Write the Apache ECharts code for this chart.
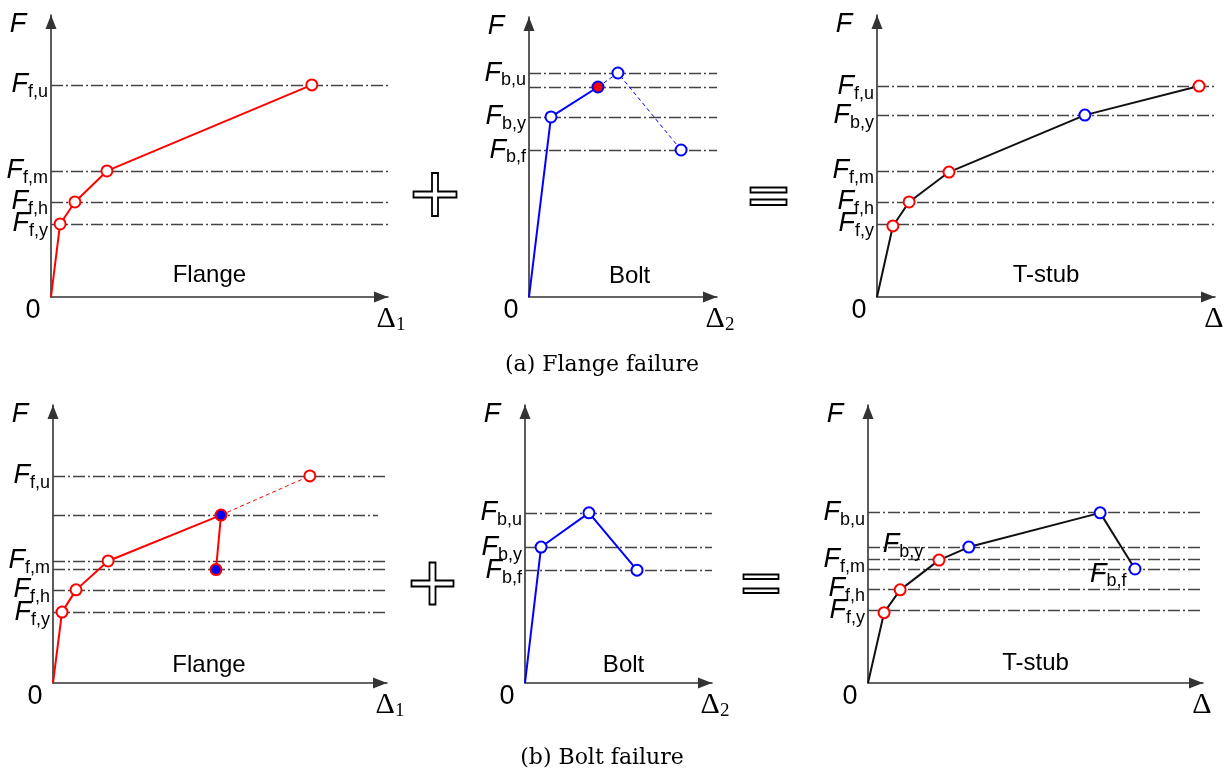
<!DOCTYPE html>
<html>
<head>
<meta charset="utf-8">
<script src="https://cdn.jsdelivr.net/npm/echarts@6/dist/echarts.min.js"></script>
<style>
html, body { margin: 0; padding: 0; background: #fff; }
#chart { width: 1228px; height: 770px; }
</style>
</head>
<body>
<div id="chart"></div>
<script>
// values, every axis normalised to 0..100

// (a) flange failure
var aFlangeX = [0, 2.7, 7.1, 16.6, 77.4];
var aFlangeY = [0, 25.9, 33.7, 44.7, 75.2];
var aFlangeLevels = [75.2, 44.7, 33.7, 25.9];
var aFlangeTicks = ['f,u', 'f,m', 'f,h', 'f,y'];

var aBoltX = [0, 11.7, 36.7, 47.3, 80.9];
var aBoltY = [0, 64.3, 75.0, 80.0, 52.5];
var aBoltLevels = [80.0, 75.0, 64.3, 52.5];
var aBoltTicks = ['b,u', '', 'b,y', 'b,f'];

var aTstubX = [0, 4.7, 9.5, 21.3, 61.5, 95.3];
var aTstubY = [0, 25.2, 33.7, 44.3, 64.5, 74.8];
var aTstubFrom = ['', 'f', 'f', 'f', 'b', 'f'];
var aTstubLevels = [74.8, 64.5, 44.7, 33.7, 25.9];
var aTstubTicks = ['f,u', 'b,y', 'f,m', 'f,h', 'f,y'];

// (b) bolt failure
var bFlangeX = [0, 2.7, 6.9, 16.5, 50.3, 48.8];
var bFlangeY = [0, 25.5, 33.5, 43.9, 60.4, 40.8];
var bFlangeRestX = [50.3, 76.9];
var bFlangeRestY = [60.4, 74.5];
var bFlangeLevels = [74.5, 60.4, 43.9, 40.8, 33.5, 25.5];
var bFlangeLevelEnds = [100, 97.3, 100, 100, 100, 100];
var bFlangeTicks = ['f,u', '', 'f,m', '', 'f,h', 'f,y'];

var bBoltX = [0, 8.6, 34.2, 59.9];
var bBoltY = [0, 48.9, 61.2, 40.6];
var bBoltLevels = [61.2, 48.9, 40.6];
var bBoltTicks = ['b,u', 'b,y', 'b,f'];

var bTstubX = [0, 4.8, 9.6, 21.2, 30.1, 69.3, 79.7];
var bTstubY = [0, 25.3, 33.5, 44.2, 48.9, 61.2, 41.0];
var bTstubFrom = ['', 'f', 'f', 'f', 'b', 'b', 'b'];
var bTstubNotes = ['', '', '', '', 'b,y', '', 'b,f'];
var bTstubLevels = [61.3, 48.9, 44.5, 40.9, 33.9, 26.0];
var bTstubTicks = ['b,u', '', 'f,m', '', 'f,h', 'f,y'];

var titles = ['Flange', 'Bolt', 'T-stub', 'Flange', 'Bolt', 'T-stub'];
var deltaSubs = ['1', '2', '', '1', '2', ''];
var captions = ['(a) Flange failure', '(b) Bolt failure'];

// layout
var boxes = [
    {left: 51, top: 15, width: 337, height: 282, tx: 0.47, ty: -22},
    {left: 529, top: 17, width: 188, height: 280, tx: 0.535, ty: -21},
    {left: 877, top: 15, width: 338, height: 282, tx: 0.5, ty: -22},
    {left: 53, top: 405, width: 334, height: 278, tx: 0.467, ty: -18},
    {left: 525, top: 405, width: 187, height: 278, tx: 0.527, ty: -18},
    {left: 868, top: 405, width: 335, height: 278, tx: 0.5, ty: -20}
];

var RED = '#ff0000', BLUE = '#0000ff', BLACK = '#111111';
var SANS = '"Liberation Sans", Arial, sans-serif';
var SERIF = '"Liberation Serif", "DejaVu Serif", serif';

var rich = {
    F: {fontSize: 27, fontStyle: 'italic', fontFamily: SANS, color: '#000'},
    s: {fontSize: 18, fontFamily: SANS, color: '#000', padding: [15, 0, 0, 0]}
};
function fLabel(sub) { return '{F|F}{s|' + sub + '}'; }

function ring(color) { return {color: '#fff', borderColor: color, borderWidth: 2}; }

function pts(xs, ys, styleFn) {
    return xs.map(function (x, i) {
        var item = {value: [x, ys[i]]};
        var st = styleFn ? styleFn(i) : null;
        if (st === null) { item.symbol = 'none'; } else { item.itemStyle = st; }
        return item;
    });
}

function levelMarks(levels, ticks, ends) {
    return {
        silent: true,
        symbol: 'none',
        animation: false,
        z: 1,
        label: {show: false},
        lineStyle: {color: '#444', width: 1.3, type: [12, 3, 2, 3]},
        data: levels.map(function (lv, i) {
            var first = {coord: [0, lv]};
            if (ticks[i]) {
                first.label = {show: true, position: 'start', distance: 3, formatter: fLabel(ticks[i]), rich: rich};
            }
            return [first, {coord: [ends ? ends[i] : 100, lv]}];
        })
    };
}

var grids = [], xAxes = [], yAxes = [], graphics = [];
var axisLine = {
    show: true, onZero: false,
    symbol: ['none', 'triangle'], symbolSize: [11, 14], symbolOffset: [0, -7],
    lineStyle: {color: '#333', width: 1.6}
};
boxes.forEach(function (b, i) {
    grids.push({left: b.left, top: b.top, width: b.width, height: b.height, containLabel: false, outerBoundsMode: 'none'});
    xAxes.push({gridIndex: i, type: 'value', min: 0, max: 100, axisLine: axisLine,
        axisTick: {show: false}, axisLabel: {show: false}, splitLine: {show: false}});
    yAxes.push({gridIndex: i, type: 'value', min: 0, max: 100, axisLine: axisLine,
        axisTick: {show: false}, axisLabel: {show: false}, splitLine: {show: false}});

    graphics.push({type: 'text', silent: true, style: {
        text: 'F', x: b.left - 33, y: b.top + 9, align: 'center', verticalAlign: 'middle',
        textAlign: 'center', textVerticalAlign: 'middle',
        fontSize: 27, fontStyle: 'italic', fontFamily: SANS, fill: '#000'}});
    graphics.push({type: 'text', silent: true, style: {
        text: '0', x: b.left - 18, y: b.top + b.height + 14, align: 'center', verticalAlign: 'middle',
        textAlign: 'center', textVerticalAlign: 'middle',
        fontSize: 27, fontFamily: SANS, fill: '#000'}});
    graphics.push({type: 'text', silent: true, style: {
        text: deltaSubs[i] ? '{d|Δ}{s|' + deltaSubs[i] + '}' : '{d|Δ}',
        rich: {
            d: {fontSize: 30, fontFamily: SERIF, color: '#000'},
            s: {fontSize: 19, fontFamily: SERIF, color: '#000', padding: [13, 0, 0, 0]}
        },
        x: b.left + b.width + (deltaSubs[i] ? 3 : -1), y: b.top + b.height + 22, align: 'center', verticalAlign: 'middle',
        textAlign: 'center', textVerticalAlign: 'middle'}});
    graphics.push({type: 'text', silent: true, style: {
        text: titles[i], x: b.left + b.width * b.tx, y: b.top + b.height + b.ty,
        align: 'center', verticalAlign: 'middle', textAlign: 'center', textVerticalAlign: 'middle',
        fontSize: 24, fontFamily: SANS, fill: '#000'}});
});

// captions
[[602, 365], [602, 758]].forEach(function (p, i) {
    graphics.push({type: 'text', silent: true, style: {
        text: captions[i], x: p[0], y: p[1], align: 'center', verticalAlign: 'middle',
        textAlign: 'center', textVerticalAlign: 'middle',
        fontSize: 22, fontFamily: '"DejaVu Serif", serif', fill: '#000'}});
});

// outlined plus / equals signs
function plusShape(cx, cy, a, t) {
    return {type: 'polygon', silent: true, shape: {points: [
        [cx - t, cy - a], [cx + t, cy - a], [cx + t, cy - t], [cx + a, cy - t], [cx + a, cy + t], [cx + t, cy + t],
        [cx + t, cy + a], [cx - t, cy + a], [cx - t, cy + t], [cx - a, cy + t], [cx - a, cy - t], [cx - t, cy - t]]},
        style: {fill: '#fff', stroke: '#000', lineWidth: 1.8}};
}
function barShape(x, y, w, h) {
    return {type: 'rect', silent: true, shape: {x: x, y: y, width: w, height: h},
        style: {fill: '#fff', stroke: '#000', lineWidth: 1.8}};
}
graphics.push(plusShape(435, 194.5, 21.5, 3));
graphics.push(plusShape(432.5, 583.5, 21, 3));
graphics.push(barShape(750.5, 187.5, 36, 5));
graphics.push(barShape(750.5, 199.5, 36, 5.5));
graphics.push(barShape(743.5, 574.5, 35, 4.5));
graphics.push(barShape(743.5, 588.5, 35, 4.5));

function lineSeries(i, data, color, extra) {
    var s = {
        type: 'line', xAxisIndex: i, yAxisIndex: i, data: data,
        symbol: 'circle', symbolSize: 11, silent: true, animation: false,
        lineStyle: {color: color, width: 2},
        itemStyle: {color: color},
        z: 3
    };
    for (var k in extra) { s[k] = extra[k]; }
    return s;
}

var series = [];
// (a) Flange
series.push(lineSeries(0, pts(aFlangeX, aFlangeY, function (i) { return i === 0 ? null : ring(RED); }), RED,
    {markLine: levelMarks(aFlangeLevels, aFlangeTicks)}));
// (a) Bolt: dashed part beyond the flange limit
series.push(lineSeries(1, pts(aBoltX.slice(2), aBoltY.slice(2), function (i) { return i === 0 ? null : ring(BLUE); }), BLUE,
    {lineStyle: {color: BLUE, width: 1, type: [4, 3]}}));
series.push(lineSeries(1, pts(aBoltX.slice(0, 3), aBoltY.slice(0, 3), function (i) {
    if (i === 0) return null;
    if (i === 2) return {color: RED, borderColor: BLUE, borderWidth: 2};
    return ring(BLUE);
}), BLUE, {markLine: levelMarks(aBoltLevels, aBoltTicks), z: 4}));
// (a) T-stub
series.push(lineSeries(2, pts(aTstubX, aTstubY, function (i) {
    return aTstubFrom[i] ? ring(aTstubFrom[i] === 'b' ? BLUE : RED) : null;
}), BLACK, {markLine: levelMarks(aTstubLevels, aTstubTicks)}));

// (b) Flange: dashed part not reached
series.push(lineSeries(3, pts(bFlangeRestX, bFlangeRestY, function (i) { return i === 0 ? null : ring(RED); }), RED,
    {lineStyle: {color: RED, width: 1, type: [4, 3]}}));
series.push(lineSeries(3, pts(bFlangeX, bFlangeY, function (i) {
    if (i === 0) return null;
    if (i >= 4) return {color: BLUE, borderColor: RED, borderWidth: 2};
    return ring(RED);
}), RED, {markLine: levelMarks(bFlangeLevels, bFlangeTicks, bFlangeLevelEnds), z: 4}));
// (b) Bolt
series.push(lineSeries(4, pts(bBoltX, bBoltY, function (i) { return i === 0 ? null : ring(BLUE); }), BLUE,
    {markLine: levelMarks(bBoltLevels, bBoltTicks)}));
// (b) T-stub
var bTstubData = pts(bTstubX, bTstubY, function (i) {
    return bTstubFrom[i] ? ring(bTstubFrom[i] === 'b' ? BLUE : RED) : null;
});
bTstubData.forEach(function (d, i) {
    if (bTstubNotes[i]) {
        var far = i === 4;
        d.label = {show: true, position: 'left', distance: far ? 39 : 2, offset: far ? [0, -3] : [0, 5],
            formatter: fLabel(bTstubNotes[i]), rich: rich};
    }
});
series.push(lineSeries(5, bTstubData, BLACK, {markLine: levelMarks(bTstubLevels, bTstubTicks)}));

var chart = echarts.init(document.getElementById('chart'), null, {renderer: 'canvas'});
chart.setOption({
    backgroundColor: '#fff',
    animation: false,
    grid: grids,
    xAxis: xAxes,
    yAxis: yAxes,
    series: series,
    graphic: graphics
});
</script>
</body>
</html>
